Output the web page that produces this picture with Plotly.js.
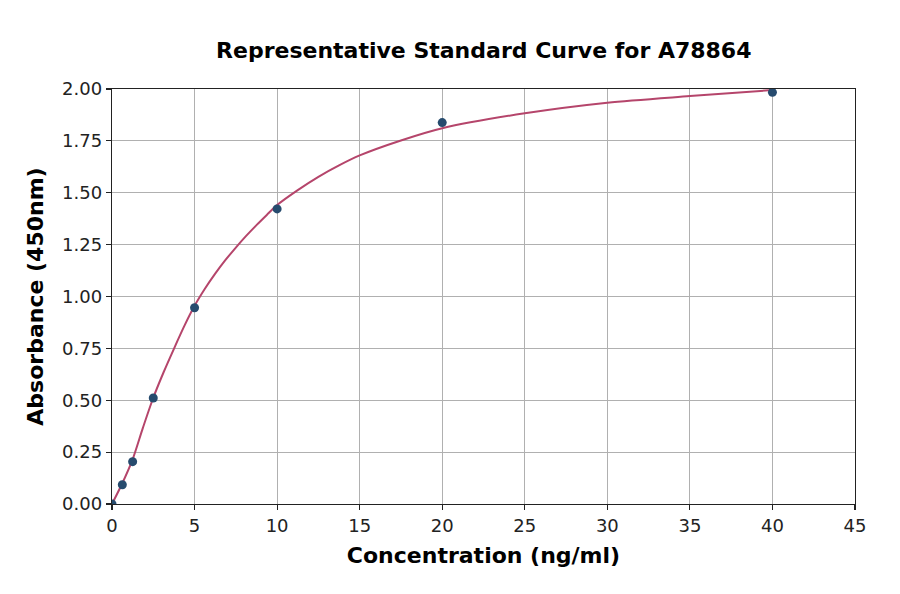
<!DOCTYPE html>
<html>
<head>
<meta charset="utf-8">
<script src="https://cdn.plot.ly/plotly-3.0.1.min.js"></script>
<style>
  html, body { margin: 0; padding: 0; background: #fff; }
  #chart { width: 900px; height: 594px; }
</style>
</head>
<body>
<div id="chart"></div>
<script>
// standards (ng/ml) and measured OD
var conc = [0, 0.625, 1.25, 2.5, 5, 10, 20, 40];
var od = [0.0, 0.093, 0.204, 0.511, 0.946, 1.422, 1.838, 1.984];

// fitted curve
var fitX = [0, 0.625, 1.25, 1.875, 2.5, 3.125, 3.75, 4.375, 5, 5.625, 6.25, 6.875, 7.5, 8.125, 8.75, 9.375, 10,
            11.25, 12.5, 13.75, 15, 17.5, 20, 25, 30, 35, 40];
var fitY = [0, 0.10, 0.215, 0.368, 0.512, 0.635, 0.748, 0.857, 0.955, 1.037, 1.110, 1.176, 1.236, 1.292, 1.344, 1.393, 1.441,
            1.513, 1.577, 1.632, 1.680, 1.752, 1.811, 1.883, 1.934, 1.966, 1.995];

var xTicks = [0, 5, 10, 15, 20, 25, 30, 35, 40, 45];
var yTicks = [0, 0.25, 0.5, 0.75, 1.0, 1.25, 1.5, 1.75, 2.0];

var data = [
  {
    x: fitX, y: fitY,
    type: "scatter", mode: "lines",
    line: { color: "#b5456b", width: 2, shape: "spline", smoothing: 0.8 },
    hoverinfo: "skip"
  },
  {
    x: conc, y: od,
    type: "scatter", mode: "markers",
    marker: { color: "#264b6e", size: 9 },
    cliponaxis: true
  }
];

var axisCommon = {
  showline: true, mirror: true, linecolor: "#222", linewidth: 1.2,
  ticks: "outside", ticklen: 5, tickcolor: "#222", tickwidth: 1.2,
  showgrid: true, gridcolor: "#b0b0b0", gridwidth: 1,
  zeroline: false,
  tickfont: { family: "DejaVu Sans", size: 18, color: "#222" }
};

var layout = {
  width: 900, height: 594,
  margin: { l: 112, r: 45, t: 89, b: 90 },
  paper_bgcolor: "#fff", plot_bgcolor: "#fff",
  showlegend: false,
  title: {
    text: "<b>Representative Standard Curve for A78864</b>",
    font: { family: "DejaVu Sans", size: 22, color: "#000" },
    x: 0.5375, xanchor: "center", y: 0.915, yanchor: "middle"
  },
  xaxis: Object.assign({}, axisCommon, {
    range: [0, 45], tickvals: xTicks,
    title: { text: "<b>Concentration (ng/ml)</b>", font: { family: "DejaVu Sans", size: 22, color: "#000" }, standoff: 12 }
  }),
  yaxis: Object.assign({}, axisCommon, {
    range: [0, 2.0], tickvals: yTicks, tickformat: ".2f",
    title: { text: "<b>Absorbance (450nm)</b>", font: { family: "DejaVu Sans", size: 22, color: "#000" }, standoff: 12 }
  })
};

Plotly.newPlot("chart", data, layout, { displayModeBar: false, staticPlot: true });
</script>
</body>
</html>
